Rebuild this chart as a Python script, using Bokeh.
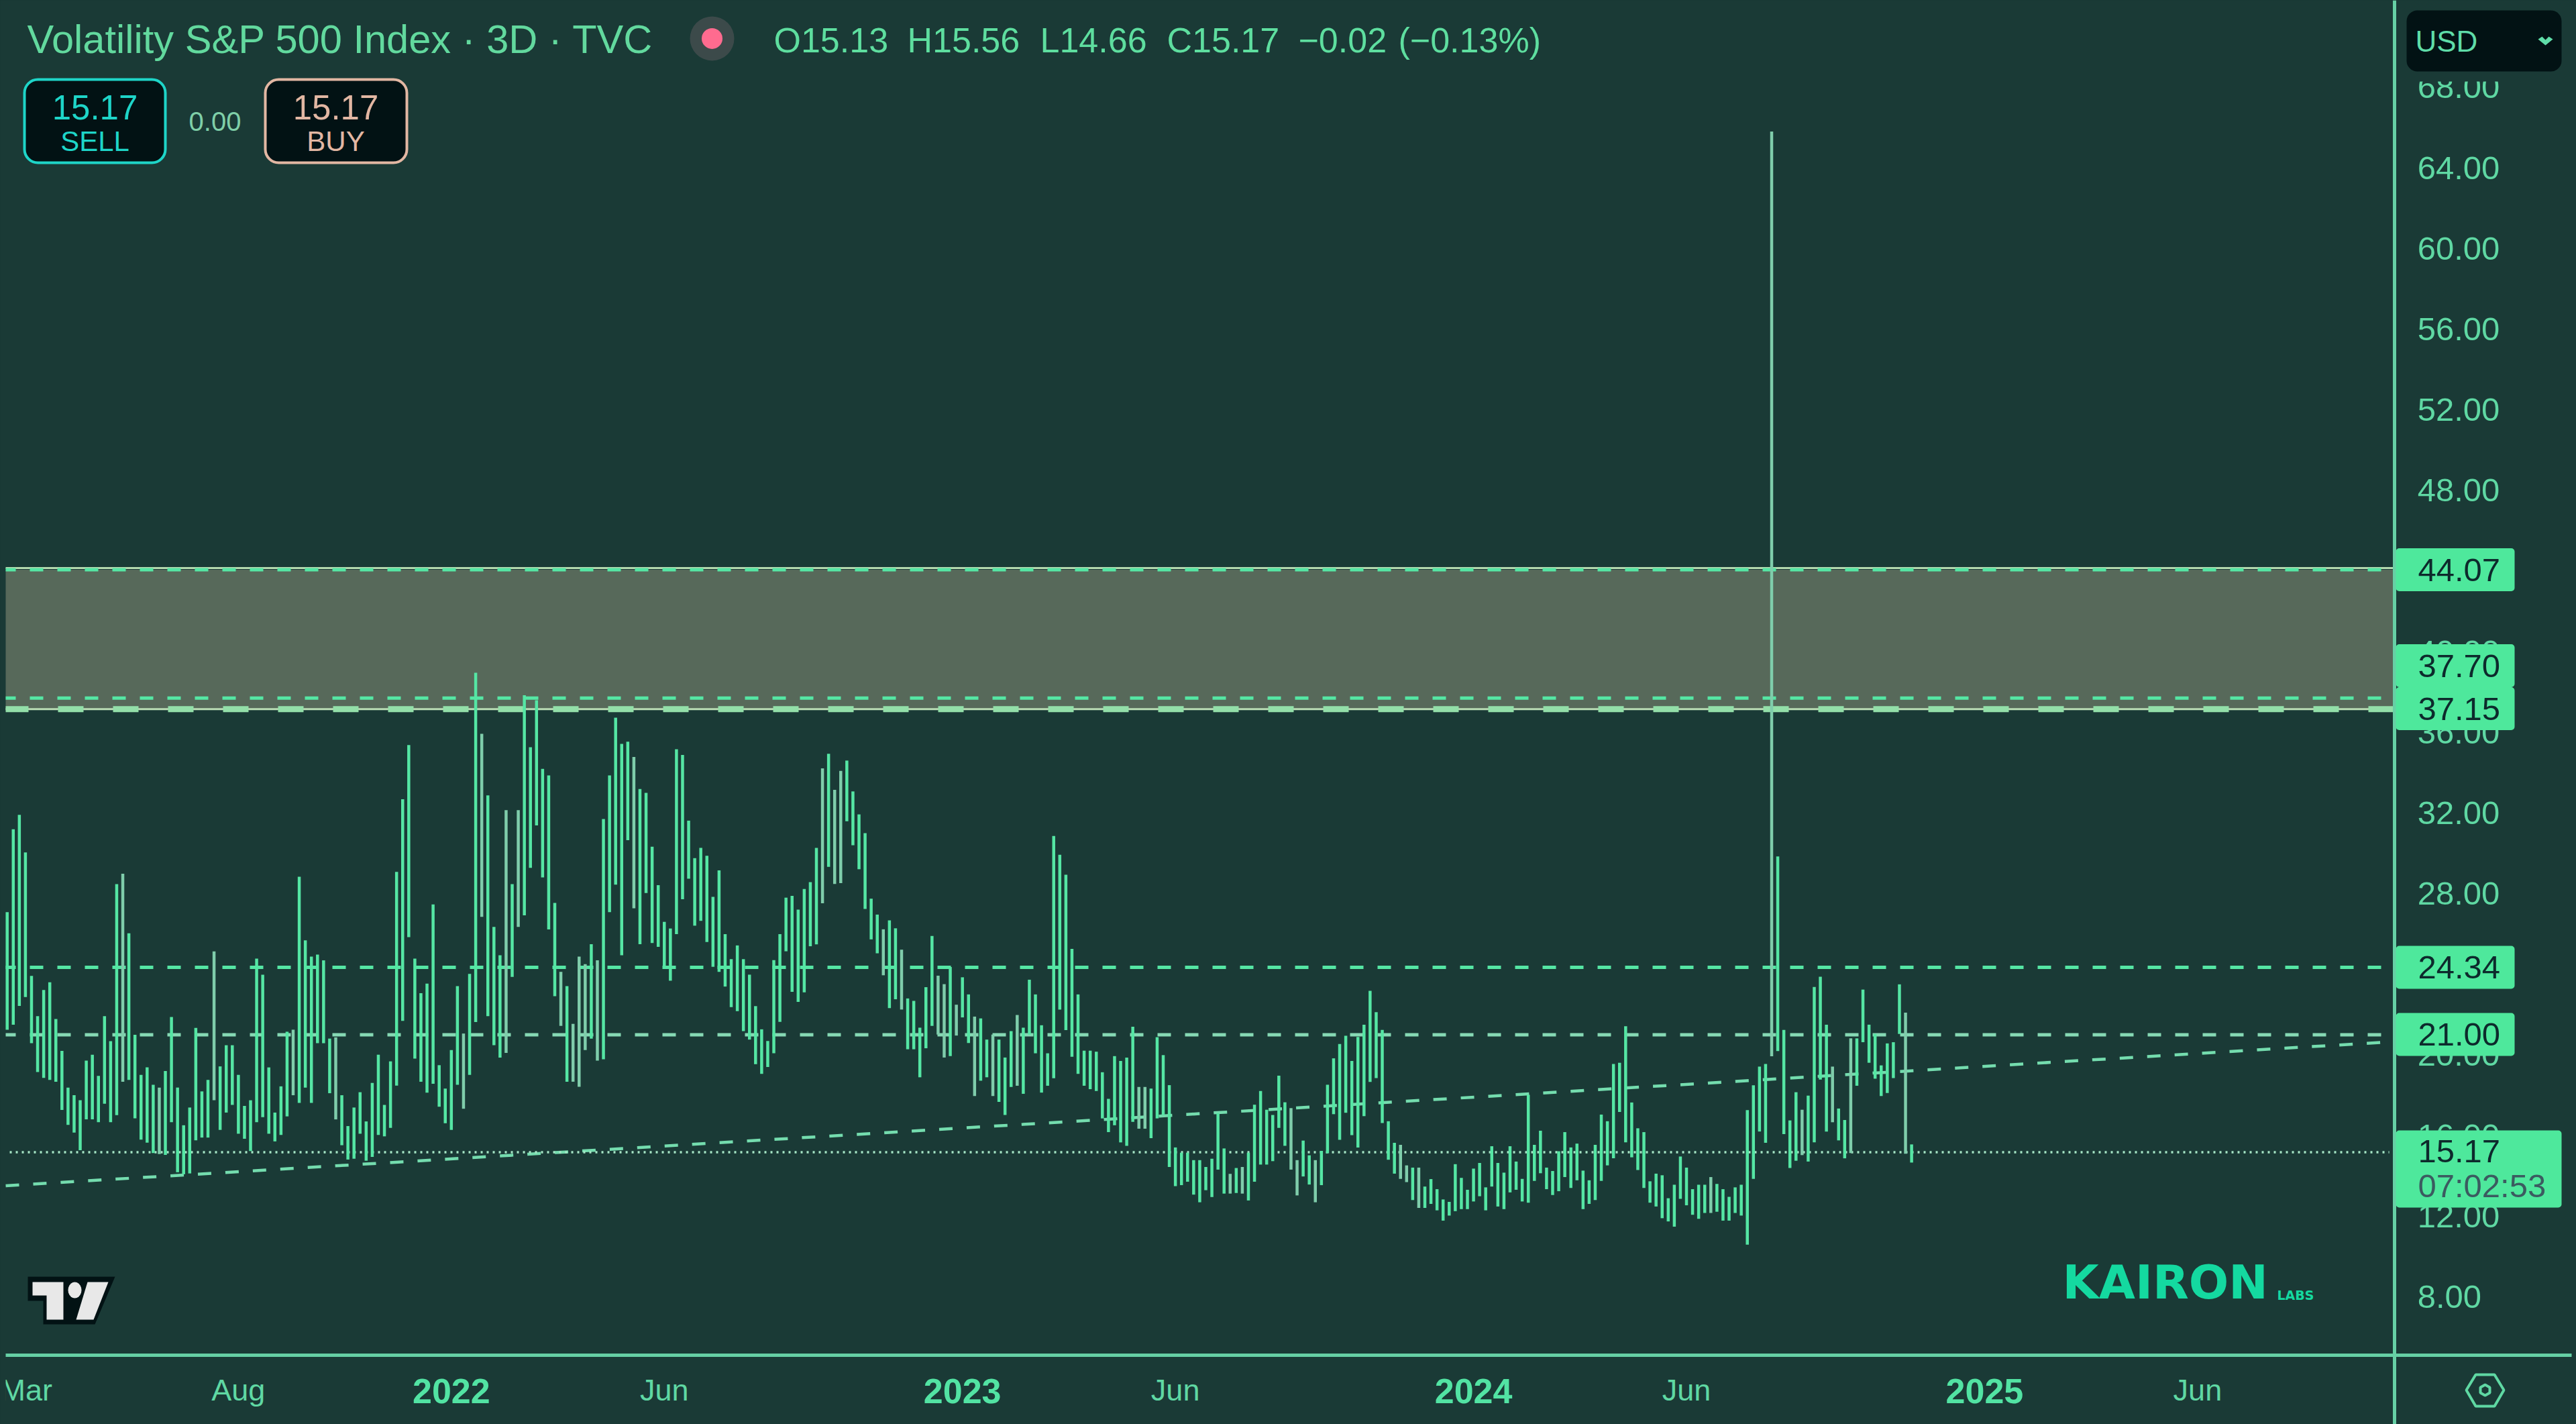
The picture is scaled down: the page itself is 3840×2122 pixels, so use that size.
import math
from bokeh.plotting import figure
from bokeh.models import (Label, BoxAnnotation, PolyAnnotation, FixedTicker, LinearAxis, NumeralTickFormatter, Range1d)
from bokeh.embed import file_html
from bokeh.resources import INLINE

highs = [27.08,31.19,31.91,30.04,23.92,21.92,23.22,23.60,21.78,20.20,18.38,18.00,17.75,19.72,20.01,18.96,21.92,20.68,28.47,28.99,
26.03,21.00,19.01,19.38,18.52,18.38,19.20,21.88,18.38,16.51,17.39,21.34,18.19,18.76,25.13,19.43,20.48,20.48,19.01,17.47,
17.75,24.78,23.98,19.38,17.14,18.44,21.15,21.25,28.84,25.68,24.88,24.98,24.69,20.81,20.87,18.00,16.47,17.39,18.15,16.70,
18.61,20.01,17.52,19.68,29.08,32.68,35.37,24.78,23.06,23.54,27.46,19.49,18.33,20.24,23.41,21.06,24.02,38.96,35.93,32.87,
26.35,24.94,32.14,28.47,32.14,37.84,35.26,37.59,34.19,33.86,27.54,24.12,23.41,21.54,24.88,24.50,25.49,24.69,31.70,33.86,
36.73,35.43,35.54,34.78,33.19,33.00,30.33,28.42,26.60,26.27,
35.16,34.88,31.62,29.76,30.27,29.88,27.84,29.15,25.99,24.75,25.43,24.75,23.98,22.42,21.27,20.69,24.70,25.99,27.80,27.89,
27.21,28.23,28.57,30.27,34.21,34.94,33.15,34.09,34.60,33.07,31.93,31.00,27.75,26.96,26.23,26.67,26.28,25.22,22.80,22.68,
21.35,23.36,25.90,23.93,23.51,24.36,22.49,23.85,23.00,21.90,21.81,20.76,21.01,20.76,19.87,21.18,21.98,21.35,23.73,23.00,
21.47,20.08,30.86,29.93,28.94,25.26,23.00,20.21,20.21,20.16,19.14,17.82,19.94,19.70,19.87,21.40,18.41,18.41,18.33,20.88,
19.99,18.50,15.41,15.15,15.15,14.78,14.78,14.44,14.85,17.11,15.36,14.10,14.39,14.44,15.15,17.53,18.21,17.28,17.02,18.97,
17.65,17.36,14.78,15.75,15.02,14.78,15.24,18.52,19.83,20.54,
20.95,19.70,20.89,21.50,23.18,22.12,21.24,16.71,15.64,15.54,14.52,14.41,14.41,13.47,13.84,13.34,12.83,12.71,14.58,13.90,
13.31,14.36,14.64,13.43,15.47,14.64,14.16,15.47,14.71,13.85,18.02,15.54,16.24,14.41,14.24,15.22,16.17,15.41,15.60,14.26,
13.78,15.54,17.04,16.71,19.55,19.61,21.42,17.64,16.36,16.17,13.73,14.11,14.03,12.89,13.56,14.96,14.41,13.34,13.56,13.56,
13.94,13.60,13.34,12.96,13.43,13.56,17.26,18.49,19.42,19.55,65.80,29.84,21.24,16.75,18.15,17.28,17.98,23.37,23.88,21.50,
19.42,17.34,16.77,20.82,20.82,23.24,21.50,21.04,19.48,20.57,20.63,23.50,22.10,15.56]
lows = [21.25,21.50,22.43,22.87,20.58,19.15,18.86,18.76,18.67,17.27,16.53,16.15,15.27,16.80,16.80,16.66,17.58,16.66,17.01,18.67,
18.76,16.85,15.80,15.65,15.13,15.08,15.04,16.66,14.18,14.08,14.12,15.76,15.90,15.90,17.75,16.28,17.14,17.52,16.09,15.84,
15.23,16.66,16.91,16.09,15.71,16.03,16.95,18.00,17.62,18.38,17.62,20.58,20.58,18.10,16.80,15.52,14.81,14.85,16.09,14.75,
14.94,16.03,15.96,16.38,18.48,21.69,25.84,19.82,18.67,18.13,18.57,17.43,16.61,16.28,18.52,17.33,19.01,21.63,26.85,21.92,
20.48,19.87,20.10,23.87,26.35,26.92,29.28,31.38,28.80,26.22,22.91,21.44,18.67,18.67,18.42,20.24,20.81,19.72,19.78,27.08,
28.45,24.94,30.65,27.27,25.49,28.03,25.55,25.36,24.31,23.68,
25.99,27.72,28.74,26.41,26.65,25.60,24.37,24.12,23.39,22.37,22.17,21.18,20.76,19.54,19.06,19.40,20.08,21.64,25.14,23.13,
22.63,23.10,25.39,25.48,27.52,29.33,28.48,28.52,31.59,30.40,29.21,27.24,25.73,25.04,23.95,22.32,22.76,22.25,20.28,20.28,
18.89,20.33,21.44,21.01,19.87,19.94,20.96,21.86,20.59,17.96,18.72,18.89,17.96,17.67,17.02,18.41,18.47,18.07,21.01,20.08,
18.13,18.47,18.84,22.25,21.23,19.91,19.06,18.47,18.30,18.21,16.85,16.17,16.51,15.66,15.49,16.68,16.34,16.34,15.87,16.85,
17.02,14.44,13.49,13.54,13.71,13.07,12.69,13.29,12.95,14.31,13.12,13.12,13.15,13.12,12.78,13.71,14.56,14.56,14.73,16.38,
15.49,14.31,13.03,13.97,13.57,12.69,13.54,15.12,17.06,15.79,
17.13,16.02,15.41,16.96,18.66,18.85,16.62,14.80,14.11,13.85,13.69,12.80,12.41,12.41,12.61,12.29,11.78,12.03,12.25,12.35,
12.35,12.73,12.99,12.29,13.47,12.48,12.35,13.18,13.31,12.73,12.67,13.75,14.13,13.34,13.05,13.24,13.94,13.40,13.78,12.35,
12.61,12.80,13.75,14.52,14.87,17.17,15.66,14.92,14.29,13.40,12.67,12.48,11.90,11.74,11.48,12.86,12.54,12.07,11.87,12.16,
12.16,12.22,11.78,11.78,12.16,12.03,10.59,13.85,16.20,15.64,19.93,20.19,16.07,14.39,14.75,15.03,14.71,15.66,18.78,16.20,
16.66,15.76,14.87,15.13,18.47,20.63,19.61,18.82,17.96,18.11,18.85,21.04,15.10,14.66]
muted_bars = [20,26,35,48,55,76,79,83,85,92,94,95,96,98,104,135,137,138,145,148,154,155,157,160,163,167,187,188,202,204,212,213,216,
              230,231,233,281,291,296,301,304,313]

price_ticks = [8,12,16,20,24,28,32,36,40,44,48,52,56,60,64,68]
month_ticks = [2,38,108,192,276,360]
month_labels = ["Mar","Aug","Jun","Jun","Jun","Jun"]
year_ticks = [73,157,241,325]
year_labels = ["2022","2023","2024","2025"]
zone_top, zone_bottom = 44.07, 37.15
dashed_levels = [44.07,37.70,24.34,21.00]
last_price = 15.17
trend_x, trend_y = [-0.24,392.4], [13.51,20.66]
tag_texts = ["44.07","37.70","37.15","24.34","21.00"]
tag_centres = [848.5,991.5,1055.5,1441,1541]
ohlc_parts = ["O15.13","H15.56","L14.66","C15.17","\u22120.02","(\u22120.13%)"]
ohlc_x = [1153,1352,1550,1739,1935,2084]

BG="#1a3a36"; GREEN="#55e6a4"; MUTED="#7fcdab"; TXT="#5fd8a3"; TAG="#4ee89c"; DARK="#021214"; AX="#66d0a5"
FONT="Liberation Sans"
X_RIGHT=392.4; X_LEFT=-0.243; Y_FLOOR=5.10

p = figure(width=3840, height=2122, output_backend="svg", toolbar_location=None, tools="",
           x_range=Range1d(-1.125,422.25), y_range=Range1d(1.675,72.31),
           background_fill_color=BG, border_fill_color=BG, outline_line_color=None,
           min_border_left=0, min_border_right=0, min_border_top=0, min_border_bottom=0,
           x_axis_location=None, y_axis_location=None)
p.styles = {"position":"absolute","left":"0px","top":"0px","background-color":BG,"box-shadow":f"0 0 0 20px {BG}","border":"none","outline":"none"}
p.grid.visible = False

# resistance zone
p.quad(left=[X_LEFT],right=[X_RIGHT],top=[zone_top],bottom=[zone_bottom],fill_color="#57695a",line_color=None)
p.line([X_LEFT,X_RIGHT],[zone_top+0.08]*2,line_color="#b4d9ae",line_width=3)
p.line([X_LEFT,X_RIGHT],[zone_bottom]*2,line_color="#b9dcb4",line_width=3)
p.line([X_LEFT,X_RIGHT],[zone_bottom]*2,line_color="#93dfa9",line_width=9,line_dash="38 44",line_dash_offset=4)

for lv in dashed_levels:
    c = "#86d9b4" if lv==21.00 else GREEN
    p.line([X_LEFT,X_RIGHT],[lv]*2,line_color=c,line_width=5,line_dash="20 21",line_dash_offset=5)
p.line(trend_x,trend_y,line_color="#74dcae",line_width=4.5,line_dash="20 21")
p.line([0.42,391.5],[last_price]*2,line_color="#a6e6c6",line_width=3.5,line_dash="3 6")

xs = list(range(len(highs)))
cols = [MUTED if (i+1) in muted_bars else GREEN for i in xs]
p.segment(x0=xs,y0=lows,x1=xs,y1=highs,line_color=cols,line_width=4.5)

ya = LinearAxis(ticker=FixedTicker(ticks=price_ticks), formatter=NumeralTickFormatter(format="0.00"), fixed_location=X_RIGHT)
ya.axis_line_color=AX; ya.axis_line_width=5; ya.major_tick_line_color=None; ya.minor_tick_line_color=None
ya.major_label_text_color=TXT; ya.major_label_text_font=FONT; ya.major_label_text_font_size="49px"; ya.major_label_standoff=28
p.add_layout(ya,"right")
xa = LinearAxis(ticker=FixedTicker(ticks=month_ticks), major_label_overrides=dict(zip(month_ticks,month_labels)),
                fixed_location=Y_FLOOR, bounds=(X_LEFT,421.5))
xa.axis_line_color=AX; xa.axis_line_width=5; xa.major_tick_line_color=None; xa.minor_tick_line_color=None
xa.major_label_text_color=TXT; xa.major_label_text_font=FONT; xa.major_label_text_font_size="45px"; xa.major_label_standoff=20
p.add_layout(xa,"below")

def lab(t,x,y,size,color,align="left",bold=False,font=FONT):
    p.add_layout(Label(x=x,y=y,x_units="canvas",y_units="canvas",text=t,text_font=font,text_font_size=f"{size}px",
                       text_color=color,text_align=align,text_baseline="middle",
                       text_font_style="bold" if bold else "normal"))
def box(l,r,t,b,fill,line=None,lw=0,rad=0,level="annotation"):
    p.add_layout(BoxAnnotation(left=l,right=r,top=t,bottom=b,left_units="canvas",right_units="canvas",top_units="canvas",
                 bottom_units="canvas",fill_color=fill,fill_alpha=1,line_color=line,line_width=lw,line_alpha=1,border_radius=rad,level=level))
def poly(xs,ys,fill,line=None,lw=0):
    p.add_layout(PolyAnnotation(xs=xs,ys=ys,xs_units="canvas",ys_units="canvas",fill_color=fill,fill_alpha=1 if fill else 0,
                 line_color=line,line_width=lw,line_alpha=1,level="annotation"))

# the month label at the far left is cut off by the chart's edge
box(0,8,2025,2122,BG)

# header
lab("Volatility S&P 500 Index \u00b7 3D \u00b7 TVC",40,58,59.6,"#62d99e")
p.scatter([(1061-10.2)/9.07],[8+(1932-57)/30.04],size=66,fill_color="#3c4a4a",line_color=None)
p.scatter([(1061-10.2)/9.07],[8+(1932-57)/30.04],size=31,fill_color="#ff6b8f",line_color=None)
for t,x in zip(ohlc_parts,ohlc_x):
    lab(t,x,59,52,"#5ede9f")

# sell / buy
box(36,246,118,242,DARK,"#1ed5c8",4,20)
lab("15.17",141,159,51,"#1ed5c8","center")
lab("SELL",141,210,42,"#1ed5c8","center")
lab("0.00",320,180,40,"#7fcfa8","center")
box(395,606,118,242,DARK,"#e2b7a3",4,20)
lab("15.17",500,159,51,"#e2b7a3","center")
lab("BUY",500,210,42,"#e2b7a3","center")

# currency
box(3575,3835,106,121,BG)
box(3587,3818,15,106,DARK,rad=16)
lab("USD",3600,61,44,"#5fdca8")
poly([3783,3789,3794,3799,3805,3794],[58,54,59,54,58,67],"#5fdca8")

# price tags
for t,c in zip(tag_texts,tag_centres):
    box(3571,3748,c-32,c+32,TAG,rad=5)
for t,c in zip(tag_texts,tag_centres):
    lab(t,3604,c,49,"#0d2a2c")
box(3571,3818,1684,1799,TAG,rad=5)
lab("15.17",3604,1715,49,"#0d2a2c")
lab("07:02:53",3604,1766,49,"#3b5b60")

# year labels
for t,v in zip(year_labels,year_ticks):
    p.add_layout(Label(x=v,y=2072,x_units="data",y_units="canvas",text=t,text_font=FONT,text_font_size="52px",text_color="#52e3a3",
                       text_align="center",text_baseline="middle",text_font_style="bold"))

# TV logo
poly([41,171,141,64,64,41],[1902,1902,1973,1973,1938,1938],DARK)
poly([48,94,94,69,69,48],[1910,1910,1966,1966,1930,1930],"#e8e8e8")
poly([130,161,139,113],[1910,1910,1966,1966],"#e8e8e8")
poly([111+10*math.cos(a*math.pi/10) for a in range(20)],[1922+12*math.sin(a*math.pi/10) for a in range(20)],"#e8e8e8")

# Kairon wordmark
lab("KAIRON",3074,1910,70,"#14d9a0",bold=True,font="DejaVu Sans")
lab("LABS",3394,1929,19,"#14d9a0",bold=True,font="DejaVu Sans")

# settings icon
poly([3676,3690,3718,3732,3718,3690],[2071,2048,2048,2071,2095,2095],None,"#5fd8a3",4)
poly([3697,3704,3711,3711,3704,3697],[2067,2063,2067,2075,2079,2075],None,"#5fd8a3",4)

# clean canvas edges
box(0,6,0,2122,BG,level="overlay")
box(0,3566,0,4,BG,level="overlay")
box(3572,3840,0,4,BG,level="overlay")

open("out.html","w").write(file_html(p,INLINE))
